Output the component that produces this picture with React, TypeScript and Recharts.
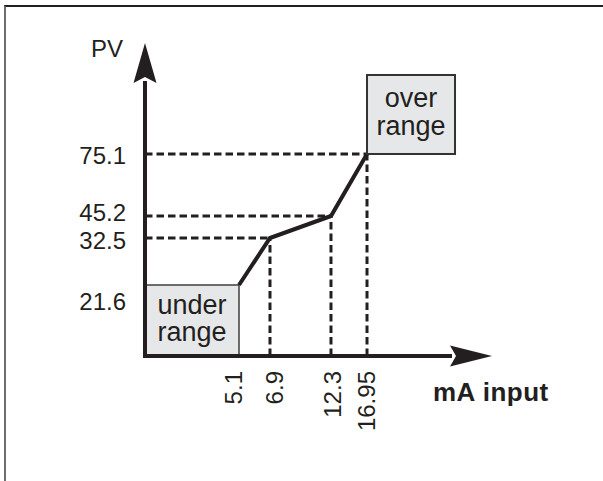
import React from 'react';
import {
  LineChart,
  Line,
  XAxis,
  YAxis,
  ReferenceLine,
  ReferenceArea,
  ReferenceDot,
} from 'recharts';

// ---------------- data ----------------
const MA_INPUT = [5.1, 6.9, 12.3, 16.95];
const PV_VALUES = [21.6, 32.5, 45.2, 75.1];
const X_TICKS = [5.1, 6.9, 12.3, 16.95];
const Y_TICKS = [21.6, 32.5, 45.2, 75.1];
const X_AXIS_END = 25;
const Y_AXIS_END = 100;
const X_LABEL = 'mA input';
const Y_LABEL = 'PV';
const UNDER_RANGE = ['under', 'range'];
const OVER_RANGE = ['over', 'range'];

const data = MA_INPUT.map((ma, i) => ({ ma, pv: PV_VALUES[i] }));

// ---------------- layout / style ----------------
// The reference is a schematic: axis breaks are not evenly spaced.
const X_BREAK_FRACS = [0, 0.2709, 0.3602, 0.536, 0.6398, 1];
const Y_BREAK_FRACS = [0, 0.2268, 0.377, 0.4473, 0.6454, 1];
const X_TICK_SHIFT = [-5, 4.5, 1.5, 0];
const Y_TICK_SHIFT = [17, 3, -3, 2];
const INK = '#231f20';
const BOX_FILL = '#e6e7e8';
const FONT = '"Liberation Sans", Arial, Helvetica, sans-serif';
const OVER_BOX = { w: 88, h: 79 };

function brokenScale(knots: number[], fracs: number[]): any {
  let dom: number[] = [knots[0], knots[knots.length - 1]];
  let rng: number[] = [0, 1];
  const frac = (v: number) => {
    const n = knots.length;
    let i = 0;
    while (i < n - 2 && v > knots[i + 1]) i++;
    const t = (v - knots[i]) / (knots[i + 1] - knots[i]);
    return fracs[i] + t * (fracs[i + 1] - fracs[i]);
  };
  const scale: any = (v: any) => {
    const f = frac(Number(v));
    return rng[0] + f * (rng[1] - rng[0]);
  };
  scale.domain = (d?: any[]) => {
    if (d === undefined) return dom.slice();
    dom = d.map(Number);
    return scale;
  };
  scale.range = (r?: any[]) => {
    if (r === undefined) return rng.slice();
    rng = r.map(Number);
    return scale;
  };
  scale.ticks = () => knots.slice();
  scale.tickFormat = () => (v: any) => String(v);
  scale.invert = (px: number) => {
    const f = (px - rng[0]) / (rng[1] - rng[0]);
    let i = 0;
    while (i < fracs.length - 2 && f > fracs[i + 1]) i++;
    const t = (f - fracs[i]) / (fracs[i + 1] - fracs[i]);
    return knots[i] + t * (knots[i + 1] - knots[i]);
  };
  scale.copy = () => {
    const s = brokenScale(knots, fracs);
    s.domain(dom);
    s.range(rng);
    return s;
  };
  return scale;
}

const xScale = brokenScale([0, ...X_TICKS, X_AXIS_END], X_BREAK_FRACS);
const yScale = brokenScale([0, ...Y_TICKS, Y_AXIS_END], Y_BREAK_FRACS);

const XTick = (props: any) => {
  const { x, y, payload, index } = props;
  const cx = x + (X_TICK_SHIFT[index] || 0);
  return (
    <text
      x={cx}
      y={y}
      transform={`rotate(-90, ${cx}, ${y})`}
      textAnchor="end"
      dy="0.35em"
      fontSize={24}
      fontFamily={FONT}
      fill={INK}
    >
      {String(payload.value)}
    </text>
  );
};

const YTick = (props: any) => {
  const { x, y, payload, index } = props;
  return (
    <text
      x={x}
      y={y + (Y_TICK_SHIFT[index] || 0)}
      textAnchor="end"
      dy="0.35em"
      fontSize={24}
      fontFamily={FONT}
      fill={INK}
    >
      {String(payload.value)}
    </text>
  );
};

const BoxText = ({ cx, cy, lines }: { cx: number; cy: number; lines: string[] }) => (
  <text textAnchor="middle" fontSize={27} fontFamily={FONT} fill={INK}>
    {lines.map((l, i) => (
      <tspan key={i} x={cx} y={cy - 7 + i * 27.5}>
        {l}
      </tspan>
    ))}
  </text>
);

const UnderBox = (p: any) => {
  const { x, y, width, height } = p;
  return (
    <g>
      <rect x={x} y={y} width={width} height={height} fill={BOX_FILL} stroke="#4a4a4a" strokeWidth={1.6} />
      <BoxText cx={x + width / 2} cy={y + height / 2} lines={UNDER_RANGE} />
    </g>
  );
};

const OverBox = (p: any) => {
  const { cx, cy } = p;
  const x = cx;
  const y = cy - OVER_BOX.h;
  return (
    <g>
      <rect x={x} y={y} width={OVER_BOX.w} height={OVER_BOX.h} fill={BOX_FILL} stroke="#333" strokeWidth={2} />
      <BoxText cx={x + OVER_BOX.w / 2} cy={y + OVER_BOX.h / 2} lines={OVER_RANGE} />
    </g>
  );
};

const YArrowAxis = (p: any) => {
  const { x1, y1, x2, y2 } = p;
  const head = 40;
  return (
    <g>
      <line x1={x1} y1={y1 + 2} x2={x2} y2={y2 + head - 2} stroke={INK} strokeWidth={4} />
      <polygon points={`${x2},${y2} ${x2 - 11.5},${y2 + head} ${x2},${y2 + head - 6} ${x2 + 11.5},${y2 + head}`} fill={INK} />
    </g>
  );
};

const XArrowAxis = (p: any) => {
  const { x1, y1, x2, y2 } = p;
  const head = 42;
  return (
    <g>
      <line x1={x1 - 2} y1={y1} x2={x2 - head + 2} y2={y2} stroke={INK} strokeWidth={4} />
      <polygon points={`${x2},${y2} ${x2 - head},${y2 - 10.5} ${x2 - head + 6},${y2} ${x2 - head},${y2 + 10.5}`} fill={INK} />
    </g>
  );
};

const YLabel = (props: any) => {
  const vb = props.viewBox || {};
  const right = (vb.x || 0) + (vb.width || 0);
  return (
    <text x={right - 22} y={(vb.y || 0) + 14} textAnchor="end" fontSize={24} fontFamily={FONT} fill={INK}>
      {Y_LABEL}
    </text>
  );
};

const XLabel = (props: any) => {
  const vb = props.viewBox || {};
  return (
    <text
      x={(vb.x || 0) + (vb.width || 0) - 59}
      y={(vb.y || 0) + 45}
      textAnchor="start"
      fontSize={26}
      fontWeight="bold"
      letterSpacing={0.5}
      fontFamily={FONT}
      fill={INK}
    >
      {X_LABEL}
    </text>
  );
};

export default function App() {
  const guides = MA_INPUT.map((ma, i) => ({ ma, pv: PV_VALUES[i] })).slice(1);
  return (
    <div style={{ position: 'absolute', left: 0, top: 0, width: 603, height: 481, background: '#fff' }}>
      <div
        style={{
          position: 'absolute',
          left: 4,
          top: 5,
          width: 599,
          height: 476,
          borderTop: `2px solid ${INK}`,
          borderLeft: '2px solid #6d6d6d',
          boxSizing: 'border-box',
        }}
      />
      <div style={{ position: 'absolute', left: 0, top: 0 }}>
        <LineChart
          width={603}
          height={481}
          data={data}
          margin={{ top: 43, right: 111, bottom: 124, left: 144 }}
        >
          <XAxis
            dataKey="ma"
            type="number"
            domain={[0, X_AXIS_END]}
            scale={xScale}
            ticks={X_TICKS}
            interval={0}
            height={1}
            axisLine={false}
            tickLine={false}
            tickSize={0}
            tickMargin={15}
            tick={<XTick />}
            label={{ content: <XLabel /> } as any}
          />
          <YAxis
            type="number"
            domain={[0, Y_AXIS_END]}
            scale={yScale}
            ticks={Y_TICKS}
            interval={0}
            width={1}
            axisLine={false}
            tickLine={false}
            tickSize={0}
            tickMargin={19}
            tick={<YTick />}
            label={{ content: <YLabel /> } as any}
          />
          <ReferenceArea
            x1={0}
            x2={MA_INPUT[0]}
            y1={0}
            y2={PV_VALUES[0]}
            shape={<UnderBox />}
            ifOverflow="visible"
          />
          {guides.map((g, i) => (
            <ReferenceLine
              key={`h${i}`}
              segment={[{ x: 0, y: g.pv }, { x: g.ma, y: g.pv }]}
              stroke={INK}
              strokeWidth={3}
              strokeDasharray="7.5 4"
              ifOverflow="visible"
            />
          ))}
          {guides.map((g, i) => (
            <ReferenceLine
              key={`v${i}`}
              segment={[{ x: g.ma, y: 0 }, { x: g.ma, y: g.pv }]}
              stroke={INK}
              strokeWidth={3}
              strokeDasharray="7.5 4"
              ifOverflow="visible"
            />
          ))}
          <ReferenceLine
            segment={[{ x: 0, y: 0 }, { x: 0, y: Y_AXIS_END }]}
            shape={<YArrowAxis />}
            ifOverflow="visible"
          />
          <ReferenceLine
            segment={[{ x: 0, y: 0 }, { x: X_AXIS_END, y: 0 }]}
            shape={<XArrowAxis />}
            ifOverflow="visible"
          />
          <Line
            type="linear"
            dataKey="pv"
            stroke={INK}
            strokeWidth={4}
            dot={false}
            activeDot={false}
            isAnimationActive={false}
          />
          <ReferenceDot
            x={MA_INPUT[3]}
            y={PV_VALUES[3]}
            r={0}
            shape={<OverBox />}
            ifOverflow="visible"
          />
        </LineChart>
      </div>
    </div>
  );
}
